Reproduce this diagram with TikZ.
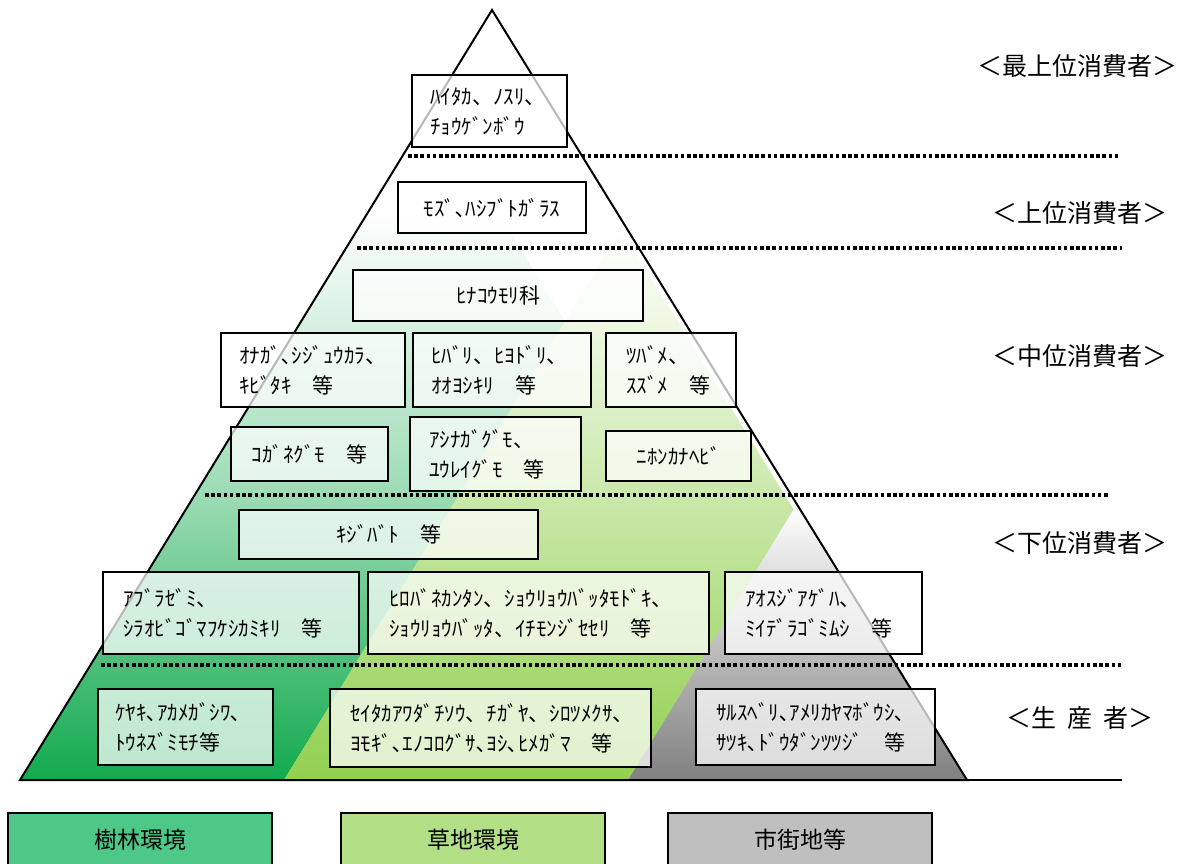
\documentclass[tikz,border=0pt]{standalone}
\usepackage{fontspec}
\setmainfont{Noto Sans CJK JP}
\definecolor{forest}{RGB}{18,170,78}
\definecolor{grass}{RGB}{146,208,80}
\definecolor{urban}{RGB}{128,128,128}
\definecolor{legforest}{RGB}{77,200,135}
\definecolor{leggrass}{RGB}{179,224,135}
\definecolor{legurban}{RGB}{191,191,191}
\begin{document}
\begin{tikzpicture}[x=1pt,y=-1pt,
  bx/.style={draw=black, line width=2.3pt, fill=white, fill opacity=0.72, text opacity=1,
             anchor=north west, inner ysep=0pt, font=\fontsize{21}{30}\selectfont},
  bxl/.style={bx, align=left},
  bxc/.style={bx, align=center, inner xsep=0pt},
  lvl/.style={font=\fontsize{25}{30}\selectfont, anchor=center, inner sep=0pt},
  dotline/.style={line width=3.6pt, dash pattern=on 3.6pt off 2.6pt},
  legbox/.style={font=\fontsize{23}{26}\selectfont, anchor=center, inner sep=0pt}]
\useasboundingbox (0,0) rectangle (1178,864);
\fill[white] (0,0) rectangle (1178,864);
% coloured habitat bands
\begin{scope}
  \clip (20,780) -- (284,780) -- (566,323) -- (433,107) -- cycle;
  \shade[top color=white, bottom color=forest, middle color=forest!42] (0,210) rectangle (1000,780);
\end{scope}
\shade[top color=white, bottom color=grass] (284,780) -- (628,780) -- (794,510) -- (621,230) -- cycle;
\shade[top color=white, bottom color=urban] (628,780) -- (967,780) -- (797,504) -- cycle;
% pyramid
\coordinate (apex) at (492,10);
\coordinate (bl) at (20,780);
\coordinate (br) at (967,780);
\coordinate (baseend) at (1122,780);
\draw[line width=2pt, line join=miter] (apex) -- (bl) -- (br) -- cycle;
\draw[line width=1.6pt] (br) -- (baseend);
% level separators
\coordinate (d1a) at (408,156); \coordinate (d1b) at (1120,156);
\coordinate (d2a) at (357,248); \coordinate (d2b) at (1122,248);
\coordinate (d3a) at (205,495); \coordinate (d3b) at (1110,495);
\coordinate (d4a) at (101,665); \coordinate (d4b) at (1122,665);
\draw[dotline] (d1a) -- (d1b);
\draw[dotline] (d2a) -- (d2b);
\draw[dotline] (d3a) -- (d3b);
\draw[dotline] (d4a) -- (d4b);
% level labels
\node[lvl] (L1) at (1077,66) {＜最上位消費者＞};
\node[lvl] (L2) at (1080,213) {＜上位消費者＞};
\node[lvl] (L3) at (1080,356) {＜中位消費者＞};
\node[lvl] (L4) at (1080,543) {＜下位消費者＞};
\node[lvl] (L5) at (1080,718) {＜生\hspace{0.45em}産\hspace{0.45em}者＞};
% species boxes
\node[bxl, inner xsep=18pt, text width=119pt, minimum height=72pt] (b1) at (411,74) {ﾊｲﾀｶ、ﾉｽﾘ、\\ﾁｮｳｹﾞﾝﾎﾞｳ};
\node[bxc, minimum width=188pt, minimum height=51pt] (b2) at (397,181) {ﾓｽﾞ､ﾊｼﾌﾞﾄｶﾞﾗｽ};
\node[bxc, minimum width=290pt, minimum height=51pt] (b3) at (352,269) {ﾋﾅｺｳﾓﾘ科};
\node[bxl, inner xsep=18pt, text width=148pt, minimum height=74pt] (b4) at (220,332) {ｵﾅｶﾞ､ｼｼﾞｭｳｶﾗ、\\ｷﾋﾞﾀｷ　等};
\node[bxl, inner xsep=18pt, text width=142pt, minimum height=74pt] (b5) at (412,332) {ﾋﾊﾞﾘ、ﾋﾖﾄﾞﾘ、\\ｵｵﾖｼｷﾘ　等};
\node[bxl, inner xsep=20pt, text width=90pt, minimum height=74pt] (b6) at (605,332) {ﾂﾊﾞﾒ、\\ｽｽﾞﾒ　等};
\node[bxc, minimum width=157pt, minimum height=54pt] (b7) at (230,426) {ｺｶﾞﾈｸﾞﾓ　等};
\node[bxl, inner xsep=19pt, text width=133pt, minimum height=74pt] (b8) at (409,416) {ｱｼﾅｶﾞｸﾞﾓ、\\ﾕｳﾚｲｸﾞﾓ　等};
\node[bxc, minimum width=145pt, minimum height=50pt] (b9) at (605,430) {ﾆﾎﾝｶﾅﾍﾋﾞ};
\node[bxc, minimum width=299pt, minimum height=49pt] (b10) at (238,509) {ｷｼﾞﾊﾞﾄ　等};
\node[bxl, inner xsep=20pt, text width=216pt, minimum height=82pt] (b11) at (102,571) {ｱﾌﾞﾗｾﾞﾐ、\\ｼﾗｵﾋﾞｺﾞﾏﾌｹｼｶﾐｷﾘ　等};
\node[bxl, inner xsep=21pt, text width=299pt, minimum height=82pt] (b12) at (367,571) {ﾋﾛﾊﾞﾈｶﾝﾀﾝ、ｼｮｳﾘｮｳﾊﾞｯﾀﾓﾄﾞｷ、\\ｼｮｳﾘｮｳﾊﾞｯﾀ、ｲﾁﾓﾝｼﾞｾｾﾘ　等};
\node[bxl, inner xsep=20pt, text width=157pt, minimum height=82pt] (b13) at (724,571) {ｱｵｽｼﾞｱｹﾞﾊ、\\ﾐｲﾃﾞﾗｺﾞﾐﾑｼ　等};
\node[bxl, inner xsep=17pt, text width=141pt, minimum height=76pt] (b14) at (97,688) {ｹﾔｷ､ｱｶﾒｶﾞｼﾜ､\\ﾄｳﾈｽﾞﾐﾓﾁ等};
\node[bxl, inner xsep=20pt, text width=281pt, minimum height=78pt] (b15) at (329,688) {ｾｲﾀｶｱﾜﾀﾞﾁｿｳ、ﾁｶﾞﾔ、ｼﾛﾂﾒｸｻ、\\ﾖﾓｷﾞ､ｴﾉｺﾛｸﾞｻ､ﾖｼ､ﾋﾒｶﾞﾏ　等};
\node[bxl, inner xsep=20pt, text width=199pt, minimum height=76pt] (b16) at (695,688) {ｻﾙｽﾍﾞﾘ､ｱﾒﾘｶﾔﾏﾎﾞｳｼ､\\ｻﾂｷ､ﾄﾞｳﾀﾞﾝﾂﾂｼﾞ　等};
% legend
\fill[legforest] (8,813) rectangle (272,866);
\fill[leggrass] (341,813) rectangle (605,866);
\fill[legurban] (668,813) rectangle (932,866);
\draw[line width=2.2pt] (8,866) -- (8,813) -- (272,813) -- (272,866);
\draw[line width=2.2pt] (341,866) -- (341,813) -- (605,813) -- (605,866);
\draw[line width=2.2pt] (668,866) -- (668,813) -- (932,813) -- (932,866);
\node[legbox] (g1) at (140,840) {樹林環境};
\node[legbox] (g2) at (473,840) {草地環境};
\node[legbox] (g3) at (800,840) {市街地等};
\end{tikzpicture}
\end{document}
